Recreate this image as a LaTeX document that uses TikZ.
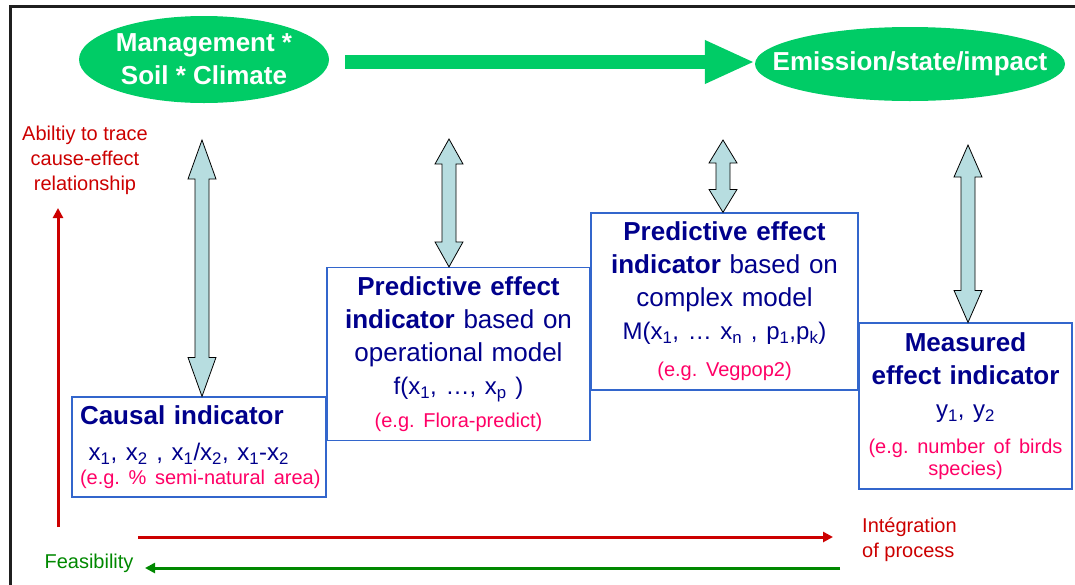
\documentclass[tikz,border=0pt]{standalone}
\usepackage{fontspec}
\setmainfont{Liberation Sans}
\frenchspacing
\usetikzlibrary{calc,arrows.meta,shapes.geometric}
\definecolor{ovalgreen}{RGB}{0,204,102}
\definecolor{arrowblue}{RGB}{183,221,224}
\definecolor{boxblue}{RGB}{51,102,204}
\definecolor{textnavy}{RGB}{0,0,140}
\definecolor{egpink}{RGB}{255,0,102}
\definecolor{tracered}{RGB}{204,0,0}
\definecolor{feasgreen}{RGB}{0,136,0}
\tikzset{
  oval/.style={ellipse, fill=ovalgreen, inner sep=0pt},
  ovaltext/.style={text=white, inner sep=0pt, align=center, font=\fontsize{26}{33}\selectfont\bfseries},
  indbox/.style={draw=boxblue, line width=1.2pt, fill=white, text=textnavy, inner sep=6pt,
    align=center, font=\fontsize{26}{33}\selectfont},
  blockarrow/.style={draw=black, fill=arrowblue, line width=0.8pt, line join=miter},
  axisarrow/.style={line width=3pt, -{Triangle[length=10pt,width=10pt]}},
  sidetext/.style={font=\fontsize{20}{25}\selectfont, inner sep=0pt},
}
\def\eg#1#2{\par\vspace{#1pt}{\color{egpink}\fontsize{20}{22}\selectfont #2\par}}
\def\dblarrow(#1)(#2)[#3]{\draw[blockarrow] let \p1=(#1), \p2=(#2) in
  (\x1,\y1) -- (\x1+14pt,\y1-#3pt) -- (\x1+7pt,\y1-#3pt) -- (\x1+7pt,\y2+#3pt)
  -- (\x1+14pt,\y2+#3pt) -- (\x1,\y2) -- (\x1-14pt,\y2+#3pt) -- (\x1-7pt,\y2+#3pt)
  -- (\x1-7pt,\y1-#3pt) -- (\x1-14pt,\y1-#3pt) -- cycle;}

\begin{document}
\begin{tikzpicture}[x=1pt,y=-1pt]
			%%%%% START %%%%%
			\useasboundingbox (0,0) rectangle (1075,584);
			\draw[line width=2.7pt, black!88] (10.7,600) -- (10.7,6.3) -- (1090,6.3);
			
			% top row
			\node[oval, minimum width=250pt, minimum height=87pt, label={[ovaltext]center:Management *\\Soil * Climate}] (drivers) at (204,59.5) {};
			\node[oval, minimum width=310pt, minimum height=74pt, label={[ovaltext]center:Emission/state/impact}] (impact) at (910,64) {};
			\coordinate (gstart) at (345,62);
			\draw[line width=14pt, ovalgreen, -{Triangle[length=50pt,width=40pt]}] (gstart) -- (gstart -| impact.west);
			
			% indicator boxes
			\node[indbox, minimum width=263pt, minimum height=173pt, text width=251pt] (opmodel) at (458.5,354)
				{\textbf{Predictive effect\\indicator} based on\\operational model\\{\fontsize{24}{33}\selectfont f(x\textsubscript{1}, …, x\textsubscript{p} )}\eg{11}{(e.g. Flora-predict)}};
			\node[indbox, minimum width=254pt, minimum height=100pt, inner xsep=8pt, text width=238pt, align=left] (cause) at (199,447)
				{\textbf{Causal indicator}\\[3pt]{\fontsize{24}{33}\selectfont \ x\textsubscript{1}, x\textsubscript{2} , x\textsubscript{1}/x\textsubscript{2}, x\textsubscript{1}-x\textsubscript{2}}\par{\color{egpink}\fontsize{20}{24}\selectfont \mbox{(e.g. \% semi-natural area)}\par}};
			\node[indbox, minimum width=267pt, minimum height=177pt, text width=255pt] (cxmodel) at (724.5,301.5)
				{\textbf{Predictive effect\\indicator} based on\\complex model\\{\fontsize{24}{33}\selectfont M(x\textsubscript{1}, … x\textsubscript{n} , p\textsubscript{1},p\textsubscript{k})}\eg{15}{(e.g. Vegpop2)}};
			\node[indbox, minimum width=213pt, minimum height=166pt, text width=201pt] (measured) at (965.5,406)
				{\textbf{Measured\\effect indicator}\\{\fontsize{24}{33}\selectfont y\textsubscript{1}, y\textsubscript{2}}\eg{14}{(e.g. number of birds\\species)}};
			
			% double arrows
			\coordinate (t1) at (202,140);
			\coordinate (t2) at (449,139);
			\coordinate (t3) at (723,140);
			\coordinate (t4) at (968,145);
			\dblarrow(t1)(t1 |- cause.north)[39]
			\dblarrow(t2)(t2 |- opmodel.north)[25]
			\dblarrow(t3)(t3 |- cxmodel.north)[23]
			\dblarrow(t4)(t4 |- measured.north)[32]
			
			% axes
			\node[sidetext, text=tracered, align=center] (ability) at (85,160) {Abiltiy to trace\\cause-effect\\relationship};
			\node[sidetext, text=feasgreen] (feas) at (89,563) {Feasibility};
			\node[sidetext, text=tracered, align=left, anchor=west] (integ) at (862,540) {Intégration\\of process};
			\coordinate (vlow) at (58,527);
			\coordinate (vtop) at (58,208);
			\coordinate (hleft) at (138,537);
			\coordinate (hright) at (833,537);
			\coordinate (gright) at (840,568);
			\coordinate (gleft) at (145,568);
			\draw[axisarrow, tracered] (vlow) -- (vtop);
			\draw[axisarrow, tracered] (hleft) -- (hright);
			\draw[axisarrow, feasgreen] (gright) -- (gleft);
			%%%%% END %%%%%
\end{tikzpicture}
\end{document}
